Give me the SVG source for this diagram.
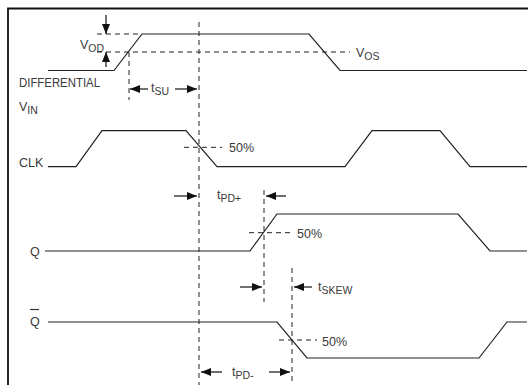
<svg xmlns="http://www.w3.org/2000/svg" width="528" height="385" viewBox="0 0 528 385">
<defs>
<marker id="ah" viewBox="0 0 10 8" refX="10" refY="4" markerWidth="10" markerHeight="8" markerUnits="userSpaceOnUse" orient="auto">
<path d="M0,0 L10,4 L0,8 Z" fill="#111"/>
</marker>
</defs>
<style>
.w{fill:none;stroke:#222;stroke-width:1.2}
.d{fill:none;stroke:#222;stroke-width:1;stroke-dasharray:5,4}
.a{fill:none;stroke:#111;stroke-width:1.2;marker-end:url(#ah)}
text{font-family:"Liberation Sans Narrow","Liberation Sans",Arial,sans-serif;font-size:12.5px;fill:#3a3a3a}
.s{font-size:10.5px}
</style>
<rect width="528" height="385" fill="#fff"/>
<path d="M8,385 V8.5 H528" fill="none" stroke="#111" stroke-width="1.8"/>
<g id="vin">
<path class="w" d="M48,70.5 H114 L142,34 H309 L340,70.5 H527"/>
<text x="19" y="87" textLength="81" lengthAdjust="spacingAndGlyphs">DIFFERENTIAL</text>
<text x="19" y="111">V<tspan class="s" dy="2.5">IN</tspan></text>
</g>
<g id="vod">
<text x="80" y="49">V<tspan class="s" dy="2.5">OD</tspan></text>
</g>
<g id="vos">
<text x="356" y="57">V<tspan class="s" dy="2.5">OS</tspan></text>
</g>
<g id="clk">
<path class="w" d="M48,166.7 H76 L102,130.7 H186 L217,166.7 H345 L372,130.7 H440 L470,166.7 H527"/>
<text x="19" y="167">CLK</text>
<text x="229" y="152">50%</text>
</g>
<g id="q">
<path class="w" d="M45,251 H250 L277,214 H458 L490,251 H527"/>
<text x="30" y="256">Q</text>
<text x="297" y="238">50%</text>
</g>
<g id="qbar">
<path class="w" d="M48,322 H277 L307,358 H479 L507,322 H527"/>
<text x="30" y="326">Q</text>
<path d="M30,309.5 H39" stroke="#333" stroke-width="1.2"/>
<text x="322" y="346">50%</text>
</g>
<g id="labels">
<text x="151" y="92">t<tspan class="s" dy="2.5">SU</tspan></text>
<text x="217" y="199">t<tspan class="s" dy="2.5">PD+</tspan></text>
<text x="318" y="291">t<tspan class="s" dy="2.5">SKEW</tspan></text>
<text x="232" y="376">t<tspan class="s" dy="2.5">PD-</tspan></text>
</g>
<g id="connectors">
<path class="d" d="M97,34 H142"/>
<path class="d" d="M97,52 H350"/>
<path class="d" d="M129,52 V100"/>
<path class="d" d="M199,22 V385"/>
<path class="d" d="M184,147.3 H222"/>
<path class="d" d="M264,190 V302"/>
<path class="d" d="M249,232.7 H292"/>
<path class="d" d="M292,268 V385"/>
<path class="d" d="M279,340 H317"/>
<path class="a" d="M106,15 V34"/>
<path class="a" d="M106,67 V52"/>
<path class="a" d="M148,89 H130"/>
<path class="a" d="M175,89 H197"/>
<path class="a" d="M174,196 H197"/>
<path class="a" d="M286,196 H266"/>
<path class="a" d="M240,287 H262"/>
<path class="a" d="M312,287 H294"/>
<path class="a" d="M222,372 H201"/>
<path class="a" d="M269,372 H290"/>
</g>
</svg>
